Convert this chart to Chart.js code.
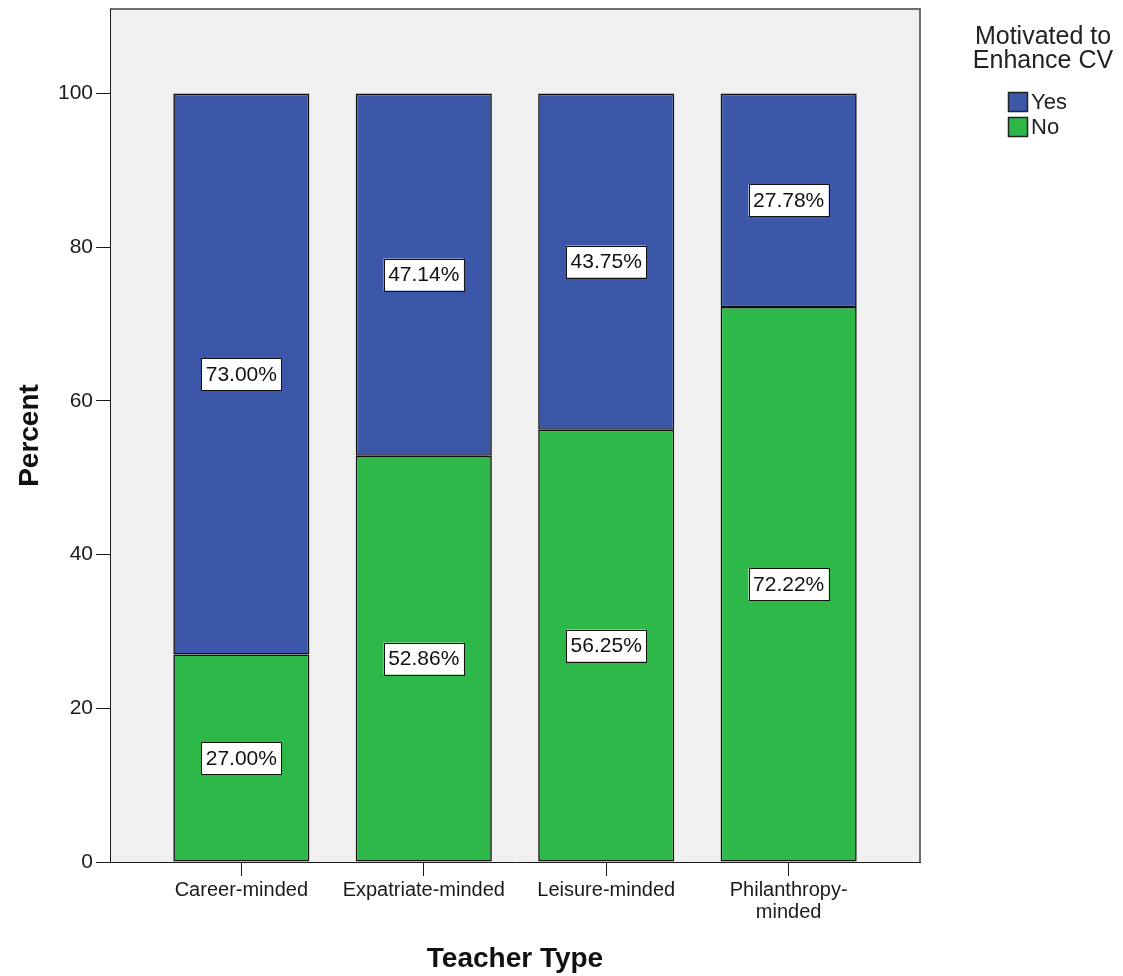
<!DOCTYPE html>
<html>
<head>
<meta charset="utf-8">
<script src="https://cdn.jsdelivr.net/npm/chart.js@4/dist/chart.umd.min.js"></script>
<style>
  body { margin: 0; background: #fff; }
  #wrap { width: 1123px; height: 976px; }
</style>
</head>
<body>
<div id="wrap"><canvas id="chart"></canvas></div>
<script>
// values
const categories = ["Career-minded", "Expatriate-minded", "Leisure-minded", "Philanthropy-minded"];
const tickLabels = ["Career-minded", "Expatriate-minded", "Leisure-minded", ["Philanthropy-", "minded"]];
const yesPct = [73.00, 47.14, 43.75, 27.78];
const noPct = [27.00, 52.86, 56.25, 72.22];
const yTicks = [0, 20, 40, 60, 80, 100];
const legendTitle = ["Motivated to", "Enhance CV"];

const FONT = "'Liberation Sans', Arial, sans-serif";
const BLUE = "#3d57a8";
const GREEN = "#2eb84a";

const toPoints = arr => arr.map((v, i) => ({ x: i, y: v }));

// grey plot background + frame
const plotBg = {
  id: "plotBg",
  beforeDraw(chart) {
    const { ctx, chartArea: a } = chart;
    ctx.save();
    ctx.fillStyle = "#f0f0f0";
    ctx.fillRect(a.left, a.top, a.right - a.left, a.bottom - a.top);
    ctx.strokeStyle = "#6e6e6e";
    ctx.lineWidth = 2;
    ctx.beginPath();
    ctx.moveTo(a.left, a.top);
    ctx.lineTo(a.right, a.top);
    ctx.lineTo(a.right, a.bottom);
    ctx.stroke();
    ctx.restore();
  }
};

// boxed percentage labels in the middle of each segment
const boxLabels = {
  id: "boxLabels",
  afterDatasetsDraw(chart) {
    const ctx = chart.ctx;
    ctx.save();
    ctx.font = "21px " + FONT;
    ctx.textAlign = "center";
    ctx.textBaseline = "middle";
    chart.data.datasets.forEach((ds, di) => {
      chart.getDatasetMeta(di).data.forEach((el, i) => {
        const txt = ds.data[i].y.toFixed(2) + "%";
        const cy = (el.y + el.base) / 2;
        const w = ctx.measureText(txt).width + 9;
        const h = 32;
        ctx.fillStyle = "#fff";
        ctx.fillRect(el.x - w / 2, cy - h / 2, w, h);
        ctx.strokeStyle = "#111";
        ctx.lineWidth = 1;
        ctx.strokeRect(Math.round(el.x - w / 2) + 0.5, Math.round(cy - h / 2) + 0.5, Math.round(w), h);
        ctx.fillStyle = "#111";
        ctx.fillText(txt, el.x, cy + 1);
      });
    });
    ctx.restore();
  }
};

// legend on the right, title on two lines
const sideLegend = {
  id: "sideLegend",
  afterDraw(chart) {
    const ctx = chart.ctx;
    ctx.save();
    ctx.fillStyle = "#222";
    ctx.textBaseline = "middle";
    ctx.textAlign = "center";
    ctx.font = "25px " + FONT;
    legendTitle.forEach((t, i) => ctx.fillText(t, 1043, 37 + i * 24));
    ctx.textAlign = "left";
    ctx.font = "22px " + FONT;
    const items = [...chart.data.datasets].reverse();
    items.forEach((ds, i) => {
      const y = 92 + i * 25;
      ctx.fillStyle = ds.backgroundColor;
      ctx.fillRect(1008, y, 20, 20);
      ctx.strokeStyle = "#222";
      ctx.lineWidth = 1.5;
      ctx.strokeRect(1008.5, y + 0.5, 19, 19);
      ctx.fillStyle = "#222";
      ctx.fillText(ds.label, 1031, y + 11);
    });
    ctx.restore();
  }
};

new Chart(document.getElementById("chart"), {
  type: "bar",
  data: {
    datasets: [
      { label: "No", data: toPoints(noPct), backgroundColor: GREEN, borderColor: "#111", borderWidth: 1.6, borderSkipped: false },
      { label: "Yes", data: toPoints(yesPct), backgroundColor: BLUE, borderColor: "#111", borderWidth: 1.6, borderSkipped: false }
    ]
  },
  options: {
    responsive: true,
    maintainAspectRatio: false,
    animation: false,
    categoryPercentage: 1,
    barPercentage: 0.746,
    layout: { padding: { top: 9, right: 203, left: 0, bottom: 0 } },
    plugins: { legend: { display: false }, tooltip: { enabled: false } },
    scales: {
      x: {
        type: "linear",
        stacked: true,
        offset: false,
        min: -0.72,
        max: 3.72,
        afterFit: s => { s.height = 114; s.paddingLeft = 0; s.paddingRight = 0; },
        ticks: {
          stepSize: 1,
          includeBounds: false,
          maxRotation: 0,
          autoSkip: false,
          padding: 3,
          color: "#1a1a1a",
          font: { family: FONT, size: 20, lineHeight: 1.1 },
          callback: v => (Number.isInteger(v) && tickLabels[v] !== undefined ? tickLabels[v] : "")
        },
        grid: { offset: false, drawOnChartArea: false, drawTicks: true, tickLength: 14, color: "#1a1a1a" },
        border: { display: true, color: "#1a1a1a", width: 1 },
        title: { display: true, text: "Teacher Type", color: "#111", padding: 0, font: { family: FONT, size: 28, weight: "bold", lineHeight: 1.2 } }
      },
      y: {
        stacked: true,
        min: 0,
        max: 111,
        afterFit: s => { s.width = 110; s.paddingTop = 0; s.paddingBottom = 0; },
        afterBuildTicks: s => { s.ticks = yTicks.map(v => ({ value: v })); },
        ticks: { padding: 3, color: "#1a1a1a", font: { family: FONT, size: 21 } },
        grid: { drawOnChartArea: false, drawTicks: true, tickLength: 14, color: "#1a1a1a" },
        border: { display: true, color: "#1a1a1a", width: 1 },
        title: { display: true, text: "Percent", color: "#111", padding: { top: 13, bottom: 0 }, font: { family: FONT, size: 28, weight: "bold", lineHeight: 1.2 } }
      }
    }
  },
  plugins: [plotBg, boxLabels, sideLegend]
});
</script>
</body>
</html>
